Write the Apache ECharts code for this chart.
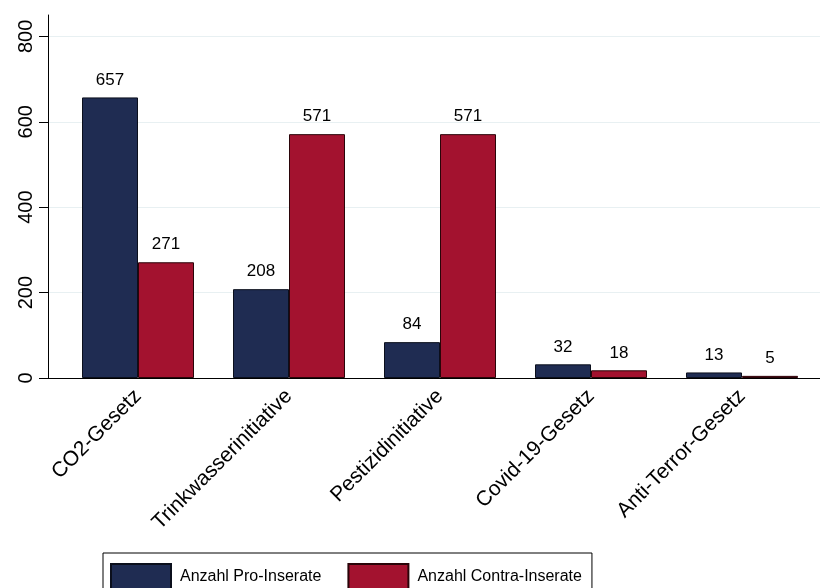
<!DOCTYPE html>
<html>
<head>
<meta charset="utf-8">
<script src="https://cdn.jsdelivr.net/npm/echarts@6/dist/echarts.min.js"></script>
<style>html,body{margin:0;padding:0;background:#fff}#c{width:820px;height:588px}</style>
</head>
<body>
<div id="c"></div>
<script>
const categories = ["CO2-Gesetz", "Trinkwasserinitiative", "Pestizidinitiative", "Covid-19-Gesetz", "Anti-Terror-Gesetz"];
const proValues = [657, 208, 84, 32, 13];
const contraValues = [271, 571, 571, 18, 5];
const yTicks = [0, 200, 400, 600, 800];
const seriesNames = ["Anzahl Pro-Inserate", "Anzahl Contra-Inserate"];

const FONT = "Liberation Sans, Arial, sans-serif";
const chart = echarts.init(document.getElementById('c'), null, {renderer: 'canvas'});
chart.setOption({
  animation: false,
  backgroundColor: '#ffffff',
  grid: [
    {left: 48, right: 0, top: 15, bottom: 210},
    {left: 62.5, right: 2.5, top: 15, bottom: 210}
  ],
  xAxis: [
    {gridIndex: 0, type: 'value', min: 0, max: 1, axisLine: {show: true, lineStyle: {color: '#000', width: 1}},
     axisTick: {show: false}, axisLabel: {show: false}, splitLine: {show: false}},
    {gridIndex: 1, type: 'category', data: categories, axisLine: {show: false}, axisTick: {show: false},
     axisLabel: {rotate: 45, interval: 0, margin: 15, fontSize: 21, color: '#000', fontFamily: FONT}}
  ],
  yAxis: [
    {gridIndex: 0, type: 'value', min: 0, max: 850,
     axisLine: {show: true, lineStyle: {color: '#000', width: 1}},
     axisTick: {show: true, length: 9, customValues: yTicks, lineStyle: {color: '#000'}},
     axisLabel: {rotate: 90, margin: 12, fontSize: 20, color: '#000', fontFamily: FONT, customValues: yTicks},
     splitLine: {show: true, lineStyle: {color: '#e8f0f2', width: 1}}},
    {gridIndex: 1, type: 'value', min: 0, max: 850, show: false, splitLine: {show: false}}
  ],
  legend: {
    data: seriesNames,
    left: 103, top: 553,
    orient: 'horizontal',
    icon: 'rect',
    itemWidth: 60, itemHeight: 25, itemGap: 26,
    padding: [10, 10, 10, 7],
    borderColor: '#000', borderWidth: 1,
    textStyle: {fontSize: 16, color: '#000', fontFamily: FONT, padding: [0, 0, 0, 4]}
  },
  series: [
    {name: seriesNames[0], type: 'bar', xAxisIndex: 1, yAxisIndex: 1, data: proValues,
     barWidth: 56, barGap: '0%',
     itemStyle: {color: '#1f2c52', borderColor: '#0b0f1c', borderWidth: 1},
     label: {show: true, position: 'top', distance: 9, fontSize: 17, color: '#000', fontFamily: FONT}},
    {name: seriesNames[1], type: 'bar', xAxisIndex: 1, yAxisIndex: 1, data: contraValues,
     barWidth: 56, barGap: '0%',
     itemStyle: {color: '#a3122f', borderColor: '#2a0409', borderWidth: 1},
     label: {show: true, position: 'top', distance: 9, fontSize: 17, color: '#000', fontFamily: FONT}}
  ]
});
</script>
</body>
</html>
